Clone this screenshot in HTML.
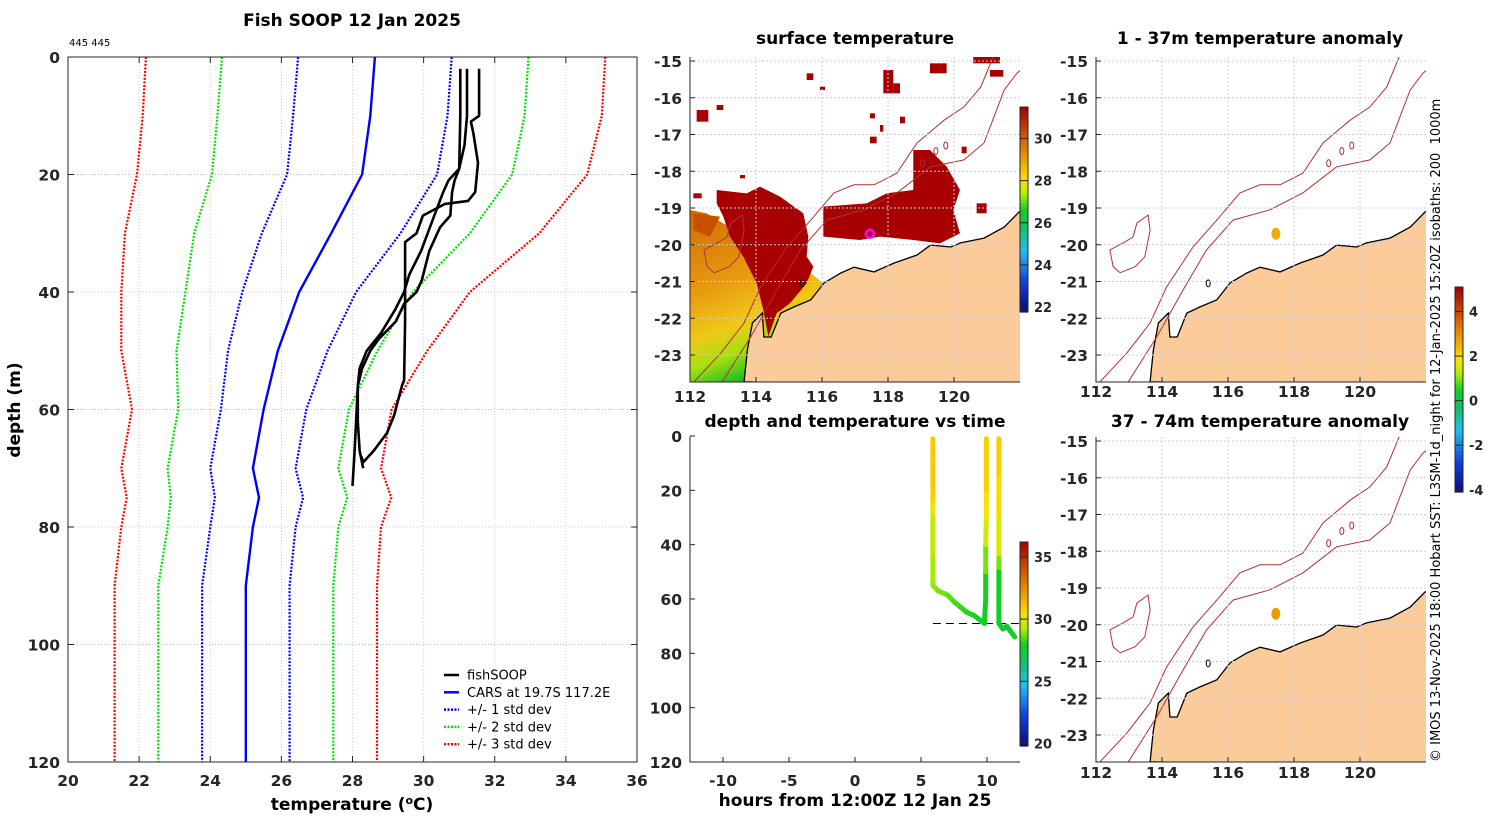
<!DOCTYPE html>
<html><head><meta charset="utf-8">
<style>
html,body{margin:0;padding:0;background:#fff;}
svg{display:block;font-family:"DejaVu Sans","Liberation Sans",sans-serif;}
.tk{font-size:15.5px;font-weight:bold;fill:#262626;}
.ttl{font-size:17px;font-weight:bold;fill:#000;}
</style></head>
<body>
<svg id="s" width="1500" height="820" viewBox="0 0 1500 820" xmlns="http://www.w3.org/2000/svg">
<defs>
<clipPath id="cMain"><rect x="68" y="57" width="569" height="705"/></clipPath>
<clipPath id="cM1"><rect x="690" y="57" width="330" height="325"/></clipPath>
<clipPath id="cM2"><rect x="1096" y="57" width="330" height="325"/></clipPath>
<clipPath id="cM3"><rect x="1096" y="437" width="330" height="325"/></clipPath>
<clipPath id="cTD"><rect x="690" y="436" width="330" height="326"/></clipPath>
<linearGradient id="gOr" x1="0" y1="0" x2="0.3" y2="1">
<stop offset="0" stop-color="#d06a00"/><stop offset="0.45" stop-color="#e89a10"/><stop offset="0.7" stop-color="#f0c818"/><stop offset="0.85" stop-color="#a8e010"/><stop offset="1" stop-color="#20c020"/>
</linearGradient>
</defs>
<text class="ttl" x="352" y="26" text-anchor="middle">Fish SOOP 12 Jan 2025</text>
<text x="69" y="46" font-size="10" fill="#000">445 445</text>
<text class="ttl" x="855" y="44" text-anchor="middle">surface temperature</text>
<text class="ttl" x="1260" y="44" text-anchor="middle">1 - 37m temperature anomaly</text>
<text class="ttl" x="1260" y="427" text-anchor="middle">37 - 74m temperature anomaly</text>
<text class="ttl" x="855" y="427" text-anchor="middle">depth and temperature vs time</text>
<text x="1440" y="762" font-size="13" fill="#000" transform="rotate(-90 1440 762)">© IMOS 13-Nov-2025 18:00 Hobart SST: L3SM-1d_night for 12-Jan-2025 15:20Z isobaths: 200&#160;&#160;1000m</text>
</svg>
<script>
// ===== profile data (temperature °C at depth m) =====
const depths = [0,10,20,30,40,50,60,70,75,80,90,100,120];
const carsMean = [28.63,28.5,28.27,27.4,26.5,25.9,25.5,25.2,25.37,25.2,25.0,25.0,25.0];
const minus1 = [26.47,26.33,26.16,25.45,24.9,24.5,24.3,24.0,24.13,24.0,23.77,23.77,23.77];
const plus1 = [30.79,30.67,30.38,29.35,28.1,27.3,26.7,26.4,26.61,26.4,26.23,26.23,26.23];
const minus2 = [24.33,24.2,24.05,23.55,23.3,23.05,23.1,22.8,22.89,22.8,22.54,22.54,22.54];
const plus2 = [32.95,32.84,32.49,31.3,29.7,28.7,27.9,27.6,27.85,27.6,27.46,27.46,27.46];
const minus3 = [22.19,22.1,21.94,21.6,21.5,21.5,21.8,21.5,21.65,21.5,21.31,21.31,21.31];
const plus3 = [35.11,35.01,34.6,33.25,31.3,30.1,29.1,28.8,29.09,28.8,28.69,28.69,28.69];
const fish1T = [31.03,31.03,31.0,30.7,30.55,30.3,29.93,29.6,29.45,29.2,28.8,28.4,28.2,28.15,28.1,28.05,28.0];
const fish1D = [2,10,19,21,23,27,33,37,40,43,47,50,53,56,62,68,73];
const fish2T = [31.22,31.22,31.15,31.0,30.87,30.8,30.75,30.46,30.16,29.95,29.8,29.45,29.22,28.74,28.5,28.27,28.15,28.15,28.2,28.3];
const fish2D = [2,10,15,19,21,23,27,29,33,38,40,42,45,48,50,53,56,62,67,70];
const fish3T = [31.56,31.56,31.33,31.4,31.53,31.45,31.25,30.6,29.98,29.8,29.48,29.48,29.45,29.39,29.17,28.97,28.6,28.3,28.25];
const fish3D = [2,10,11,13,18,23,24.5,25,27,30,31.5,45,55,56,61,64,67,69,68];
// ===== depth-time data =====
const tdHours = [5.9,5.9,5.9,5.9,5.9,5.9,5.9,6.3,7.0,7.5,8.0,8.5,9.0,9.8,9.9,9.9,9.9,9.95,9.95,9.95,10.9,10.9,10.9,10.9,10.9,10.9,10.9,11.2,11.5,11.8,12.1];
const tdDepth = [1,10,20,25,30,45,55,57,58.5,61,63,65,66,69,60,50,40,30,20,1,1,15,30,45,50,60,69,71,70,72,74];
const tdTemp = [31,31,31,30.8,29.8,29.4,29.2,29,28.8,28.6,28.4,28.3,28.2,28.1,28.0,28.3,29.5,30.2,30.8,31,31,31,30.4,29.6,28.2,28.0,27.9,27.8,27.9,27.9,28.0];
const tdMixedDepth = [69];
// ===== map data (lon, lat) =====
const coastLon = [113.64,113.74,113.89,114.19,114.24,114.46,114.75,115.15,115.66,116.06,116.57,116.97,117.58,118.18,118.88,119.29,119.9,120.2,120.91,121.52,121.97,122.2,122.2];
const coastLat = [-23.73,-22.86,-22.13,-21.86,-22.51,-22.51,-21.86,-21.69,-21.5,-21.04,-20.77,-20.61,-20.74,-20.5,-20.28,-20.01,-20.06,-19.95,-19.82,-19.52,-19.11,-19.05,-23.9];
const iso1000Lon = [112.12,112.93,113.64,114.14,114.94,115.66,116.36,116.97,117.58,118.27,118.88,119.7,120.3,120.81,121.21];
const iso1000Lat = [-23.73,-22.95,-22.13,-21.15,-20.06,-19.33,-18.59,-18.37,-18.37,-18.05,-17.23,-16.61,-16.25,-15.71,-14.84];
const iso200Lon = [112.98,113.84,114.64,115.35,116.15,117.27,118.27,119.29,120.3,120.91,121.52,121.91,122.1];
const iso200Lat = [-23.73,-22.51,-21.23,-20.14,-19.33,-19.05,-18.59,-17.88,-17.69,-17.23,-15.79,-15.33,-15.2];
const reefLon = [112.42,112.82,113.12,113.24,113.58,113.64,113.48,113.18,112.73,112.52];
const reefLat = [-20.14,-19.95,-19.79,-19.41,-19.19,-19.6,-20.33,-20.6,-20.76,-20.6];
const shoalLon = [119.05,119.45,119.75,115.4];
const shoalLat = [-17.78,-17.45,-17.3,-21.05];
const shipLon = [117.45];
const shipLat = [-19.7];
const anom1 = [2.6];
const anom2 = [2.8];
const xTicksT = [20,22,24,26,28,30,32,34,36];
const yTicksD = [0,20,40,60,80,100,120];
const lonTicks = [112,114,116,118,120];
const latTicks = [-15,-16,-17,-18,-19,-20,-21,-22,-23];
const hourTicks = [-10,-5,0,5,10];
const sstCbTicks = [30,28,26,24,22];
const anomCbTicks = [4,2,0,-2,-4];
const tdCbTicks = [35,30,25,20];

const S = document.getElementById('s');
const NS = 'http://www.w3.org/2000/svg';
function mk(tag, attrs, parent){
  const e = document.createElementNS(NS, tag);
  for (const k in attrs) e.setAttribute(k, attrs[k]);
  (parent||S).appendChild(e);
  return e;
}
const stops = [[0,[10,10,120]],[0.15,[16,64,224]],[0.3,[32,192,240]],[0.42,[16,192,96]],[0.5,[16,208,32]],[0.58,[176,240,0]],[0.65,[255,224,0]],[0.72,[240,176,0]],[0.82,[224,112,0]],[1,[160,0,0]]];
function cmap(v){
  v=Math.max(0,Math.min(1,v));
  for(let i=1;i<stops.length;i++){
    if(v<=stops[i][0]){
      const a=stops[i-1],b=stops[i],f=(v-a[0])/(b[0]-a[0]);
      const c=a[1].map((x,j)=>Math.round(x+(b[1][j]-x)*f));
      return 'rgb('+c.join(',')+')';
    }
  }
  return 'rgb(160,0,0)';
}
// ===== main profile chart =====
const X = t => 68 + (t-20)*569/16;
const Y = d => 57 + d*705/120;
xTicksT.forEach(t=>{
  if(t>20&&t<36){
    const g = mk('line',{x1:X(t),x2:X(t),y1:57,y2:762,stroke:'#e8c8b8','stroke-dasharray':'1 2','stroke-width':1});
    
    
  }
  const l = mk('text',{x:X(t),y:786,'text-anchor':'middle',class:'tk'}); l.textContent=t;
  
  
  const m1 = mk('line',{x1:X(t),x2:X(t),y1:762,y2:756,stroke:'#262626'});
  
  
  const m2 = mk('line',{x1:X(t),x2:X(t),y1:57,y2:63,stroke:'#262626'});
  
  
});
yTicksD.forEach(d=>{
  if(d>0&&d<120){
    const g = mk('line',{x1:68,x2:637,y1:Y(d),y2:Y(d),stroke:'#c0c8e8','stroke-dasharray':'1 2'});
    
    
  }
  const l = mk('text',{x:60,y:Y(d)+6,'text-anchor':'end',class:'tk'}); l.textContent=d;
  
  
  const m1 = mk('line',{x1:68,x2:74,y1:Y(d),y2:Y(d),stroke:'#262626'});
  
  
  const m2 = mk('line',{x1:631,x2:637,y1:Y(d),y2:Y(d),stroke:'#262626'});
  
  
});
const mainG = mk('g',{'clip-path':'url(#cMain)'});


function series(ts, ds, color, width, dash, name){
  const pts = ts.map((t,i)=>X(t).toFixed(1)+','+Y(ds[i]).toFixed(1)).join(' ');
  const a = {points:pts,fill:'none',stroke:color,'stroke-width':width,'stroke-linejoin':'round'};
  if(dash) a['stroke-dasharray']=dash;
  const p = mk('polyline',a,mainG);
  
  
}
series(minus3,depths,'#ff0000',2.2,'2 1.5','minus-3-std-line');
series(plus3,depths,'#ff0000',2.2,'2 1.5','plus-3-std-line');
series(minus2,depths,'#00e000',2.2,'2 1.5','minus-2-std-line');
series(plus2,depths,'#00e000',2.2,'2 1.5','plus-2-std-line');
series(minus1,depths,'#0000ff',2.2,'2 1.5','minus-1-std-line');
series(plus1,depths,'#0000ff',2.2,'2 1.5','plus-1-std-line');
series(carsMean,depths,'#0000ff',2.4,null,'cars-mean-line');
series(fish1T,fish1D,'#000',2.6,null,'fishsoop-profile-1');
series(fish2T,fish2D,'#000',2.6,null,'fishsoop-profile-2');
series(fish3T,fish3D,'#000',2.6,null,'fishsoop-profile-3');
const fr = mk('rect',{x:68,y:57,width:569,height:705,fill:'none',stroke:'#262626'});


const xl = mk('text',{x:352,y:810,'text-anchor':'middle',class:'ttl'});
xl.innerHTML='temperature (<tspan dy="-6" font-size="11">o</tspan><tspan dy="6">C)</tspan>';


const yl = mk('text',{x:20,y:410,'text-anchor':'middle',class:'ttl',transform:'rotate(-90 20 410)'});
yl.textContent='depth (m)';


const legItems = [['fishSOOP','#000',null],['CARS at 19.7S 117.2E','#0000ff',null],['+/- 1 std dev','#0000ff','2 1.5'],['+/- 2 std dev','#00e000','2 1.5'],['+/- 3 std dev','#ff0000','2 1.5']];
legItems.forEach((it,i)=>{
  const y = 675 + i*17.3;
  const g = mk('g',{});
  
  
  const a={x1:444,x2:459,y1:y,y2:y,stroke:it[1],'stroke-width':2.5};
  if(it[2]) a['stroke-dasharray']=it[2];
  mk('line',a,g);
  const t = mk('text',{x:467,y:y+4.5,'font-size':'13',fill:'#000'},g); t.textContent=it[0];
});
// ===== maps =====
function mapAxes(x0,y0,labY,clip,name){
  const MX = lon => x0 + (lon-112)*33;
  const MY = lat => y0 + 4 + (-15-lat)*36.75;
  const g = mk('g',{'clip-path':'url(#'+clip+')'});
  
  
  return {MX,MY,g};
}
function mapFrame(m,x0,y0,labY,name){
  lonTicks.forEach(lon=>{
    if(lon>112){
      const gl=mk('line',{x1:m.MX(lon),x2:m.MX(lon),y1:y0,y2:y0+325,stroke:'#c8cce8','stroke-dasharray':'2 2'});
      
      
    }
    const t = mk('text',{x:m.MX(lon),y:labY,'text-anchor':'middle',class:'tk'}); t.textContent=lon;
    
    
    mk('line',{x1:m.MX(lon),x2:m.MX(lon),y1:y0+325,y2:y0+320,stroke:'#262626'});
  });
  latTicks.forEach(lat=>{
    const gl=mk('line',{x1:x0,x2:x0+330,y1:m.MY(lat),y2:m.MY(lat),stroke:'#c8cce8','stroke-dasharray':'2 2'});
    
    
    const t = mk('text',{x:x0-8,y:m.MY(lat)+6,'text-anchor':'end',class:'tk'}); t.textContent=lat;
    
    
    mk('line',{x1:x0,x2:x0+5,y1:m.MY(lat),y2:m.MY(lat),stroke:'#262626'});
  });
  const f = mk('path',{d:`M${x0} ${y0}V${y0+325}H${x0+330}`,fill:'none',stroke:'#262626'});
  
  
}
function poly(m,lons,lats,attrs,name,closed){
  const pts = lons.map((l,i)=>m.MX(l).toFixed(1)+','+m.MY(lats[i]).toFixed(1)).join(' ');
  const p = mk(closed?'polygon':'polyline',Object.assign({points:pts},attrs),m.g);
  
  
  return p;
}
function geo(m,name){
  poly(m,coastLon,coastLat,{fill:'#fbcb9a',stroke:'#000','stroke-width':1.3},name+'-land',true);
  poly(m,iso1000Lon,iso1000Lat,{fill:'none',stroke:'#b03030','stroke-width':1},name+'-isobath-1000m',false);
  poly(m,iso200Lon,iso200Lat,{fill:'none',stroke:'#b03030','stroke-width':1},name+'-isobath-200m',false);
  poly(m,reefLon,reefLat,{fill:'none',stroke:'#b03050','stroke-width':1},name+'-reef-outline',true);
  shoalLon.forEach((lon,i)=>{
    const e = mk('ellipse',{cx:m.MX(lon),cy:m.MY(shoalLat[i]),rx:2,ry:3.5,fill:'none',stroke:i<3?'#b03030':'#000','stroke-width':1},m.g);
    
    
  });
}
// SST map
const m1 = mapAxes(690,57,402,'cM1','sst-map');
mapFrame(m1,690,57,402,'sst-map');
const sstG = mk('g',{transform:'translate(680 50) scale(0.3333)'},m1.g);


mk('polygon',{points:'30,480 80,490 130,520 200,560 260,600 330,640 380,660 430,700 430,1000 30,1000',fill:'url(#gOr)'},sstG);
mk('polygon',{points:'110,420 200,430 240,410 300,440 370,490 385,560 380,620 400,650 380,700 330,760 290,790 265,860 250,780 230,700 190,620 150,560 130,500 110,460',fill:'#a80000'},sstG);
mk('polygon',{points:'430,470 560,460 620,430 700,420 700,300 750,300 800,350 840,420 820,480 840,550 780,580 700,570 600,560 540,570 430,560',fill:'#a80000'},sstG);
mk('polygon',{points:'40,490 120,500 90,560 40,540',fill:'#c85000'},sstG);
const specks = [[380,70,20,20],[420,110,15,10],[50,180,35,35],[110,165,20,15],[610,60,30,70],[640,100,20,30],[750,40,50,30],[930,60,40,20],[880,20,80,20],[570,190,15,15],[600,225,10,20],[570,260,20,20],[660,200,15,20],[845,290,15,20],[890,460,30,30],[180,375,15,10],[40,430,25,15]];
specks.forEach(s=>{
  const r = mk('rect',{x:s[0],y:s[1],width:s[2],height:s[3],fill:'#a80000'},sstG);
  
  
});
geo(m1,'sst-map');
const ring = mk('circle',{cx:m1.MX(shipLon[0]),cy:m1.MY(shipLat[0]),r:4,fill:'none',stroke:'#ff00ff','stroke-width':2.5},m1.g);


// anomaly maps
[[57,397,'cM2',anom1,'anomaly-map-1'],[437,778,'cM3',anom2,'anomaly-map-2']].forEach(cfg=>{
  const m = mapAxes(1096,cfg[0],cfg[1],cfg[2],cfg[4]);
  mapFrame(m,1096,cfg[0],cfg[1],cfg[4]);
  geo(m,cfg[4]);
  const d = mk('ellipse',{cx:m.MX(shipLon[0]),cy:m.MY(shipLat[0]),rx:4.5,ry:6,fill:cmap((cfg[3][0]+4.1)/9.2)},m.g);
  
  
});
// ===== depth-time chart =====
const TX = h => 855 + h*13.2;
const TY = d => 436 + d*326/120;
hourTicks.forEach(h=>{
  const t = mk('text',{x:TX(h),y:786,'text-anchor':'middle',class:'tk'}); t.textContent=h;
  
  
  mk('line',{x1:TX(h),x2:TX(h),y1:762,y2:757,stroke:'#262626'});
});
yTicksD.forEach(d=>{
  const t = mk('text',{x:682,y:TY(d)+6,'text-anchor':'end',class:'tk'}); t.textContent=d;
  
  
  mk('line',{x1:690,x2:695,y1:TY(d),y2:TY(d),stroke:'#262626'});
});
const tdG = mk('g',{'clip-path':'url(#cTD)'});


const ml = mk('line',{x1:TX(tdHours[0]),x2:1020,y1:TY(tdMixedDepth[0]),y2:TY(tdMixedDepth[0]),stroke:'#000','stroke-dasharray':'8 5'},tdG);


for(let i=1;i<tdHours.length;i++){
  if(i===20) continue;
  const s = mk('line',{x1:TX(tdHours[i-1]),y1:TY(tdDepth[i-1]),x2:TX(tdHours[i]),y2:TY(tdDepth[i]),stroke:cmap(((tdTemp[i-1]+tdTemp[i])/2-20)/16.2),'stroke-width':5,'stroke-linecap':'round'},tdG);
  
  
}
const tf = mk('path',{d:'M690 436V762H1020',fill:'none',stroke:'#262626'});


const hl = mk('text',{x:855,y:806,'text-anchor':'middle',class:'ttl'}); hl.textContent='hours from 12:00Z 12 Jan 25';


// ===== colorbars =====
function colorbar(x,y0,y1,vmin,vmax,ticks,name){
  const g = mk('g',{});
  
  
  const n=60, h=(y1-y0)/n;
  for(let i=0;i<n;i++){
    mk('rect',{x:x,y:y1-(i+1)*h,width:8,height:h+0.6,fill:cmap((i+0.5)/n)},g);
  }
  mk('rect',{x:x,y:y0,width:8,height:y1-y0,fill:'none',stroke:'#262626'},g);
  ticks.forEach(v=>{
    const yy = y1-(v-vmin)/(vmax-vmin)*(y1-y0);
    mk('line',{x1:x,x2:x+8,y1:yy,y2:yy,stroke:'#262626'},g);
    const t = mk('text',{x:x+14,y:yy+5,'font-size':'13','font-weight':'bold',fill:'#262626'},g); t.textContent=v;
  });
}
colorbar(1020,107,312,21.76,31.5,sstCbTicks,'sst-colorbar');
colorbar(1455,287,492,-4.1,5.1,anomCbTicks,'anomaly-colorbar');
colorbar(1020,542,746,19.8,36.2,tdCbTicks,'depth-time-colorbar');
</script>
</body></html>
